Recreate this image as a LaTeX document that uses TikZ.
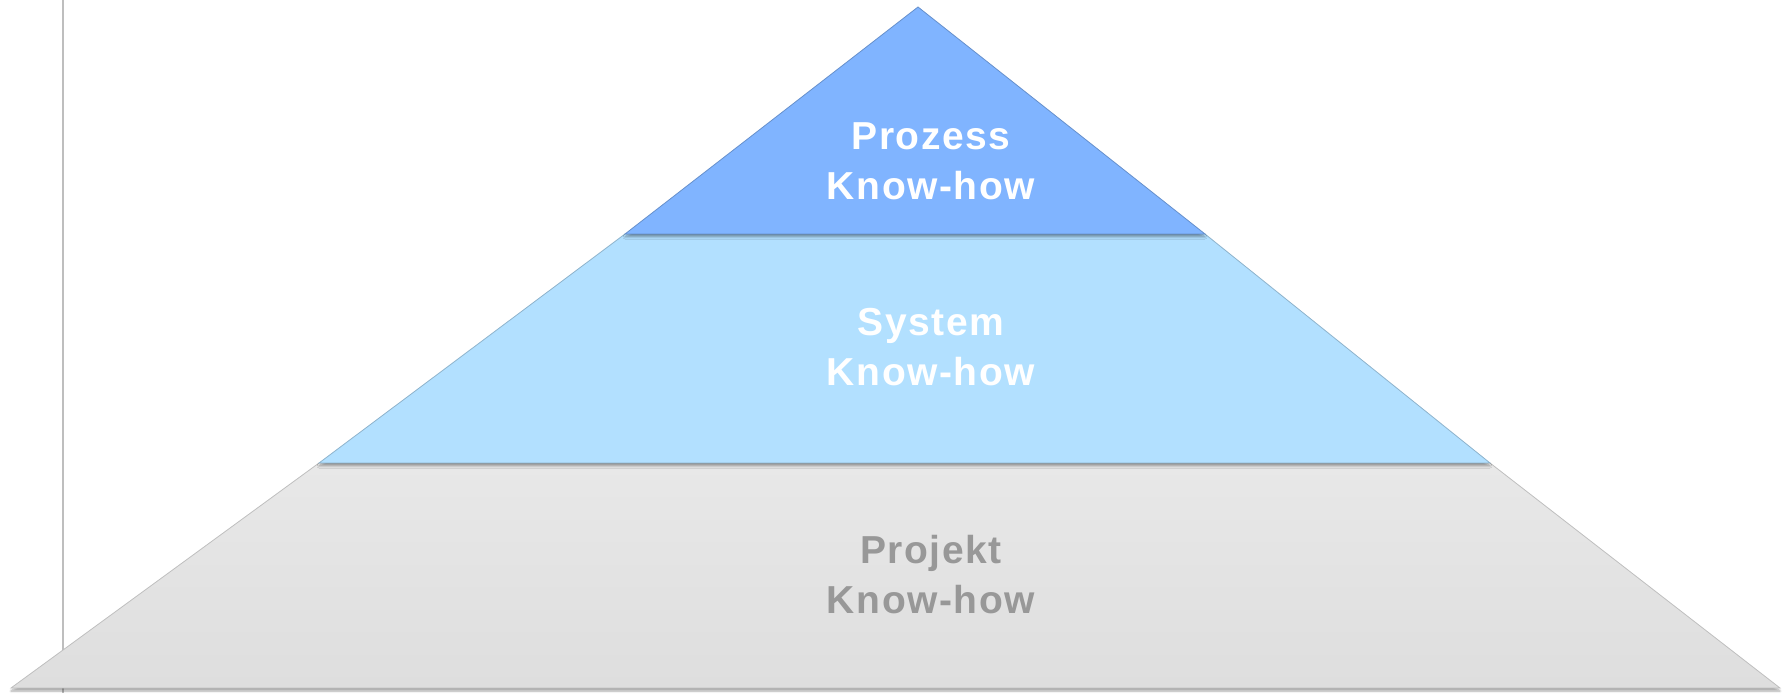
\documentclass[tikz,border=0pt]{standalone}
\usepackage{fontspec}
\setmainfont{Liberation Sans}
\usetikzlibrary{shadows.blur}
\definecolor{topblue}{RGB}{128,180,255}
\definecolor{midblue}{RGB}{178,224,255}
\definecolor{graytop}{RGB}{232,232,232}
\definecolor{graybot}{RGB}{222,222,222}
\definecolor{labgray}{RGB}{152,152,152}
\definecolor{axisgray}{RGB}{190,190,190}
\tikzset{
  layer/.style={line width=0.8pt, blur shadow={shadow xshift=0pt, shadow yshift=-3pt, shadow blur steps=6, shadow opacity=35}},
  lab/.style={align=center, font=\bfseries\fontsize{39}{50}\selectfont\addfontfeature{LetterSpace=4}, text=white},
}
\begin{document}
\begin{tikzpicture}[x=1pt,y=1pt]
\useasboundingbox (0,0) rectangle (1787,693);
% axis line
\coordinate (ax1) at (63,693);
\coordinate (ax2) at (63,0);
\draw[axisgray, line width=1.1pt] (ax1) -- (ax2);
% pyramid corners
\coordinate (apex) at (918,686);
\coordinate (l1) at (625,459);
\coordinate (r1) at (1205,459);
\coordinate (l2) at (319,230);
\coordinate (r2) at (1490,230);
\coordinate (l3) at (11,5);
\coordinate (r3) at (1780,5);
% bottom layer
\path[layer, top color=graytop, bottom color=graybot, draw=white!75!black] (l2) -- (r2) -- (r3) -- (l3) -- cycle;
% middle layer
\path[layer, fill=midblue, draw=midblue!80!black] (l1) -- (r1) -- (r2) -- (l2) -- cycle;
% top layer
\path[layer, fill=topblue, draw=topblue!80!black] (apex) -- (r1) -- (l1) -- cycle;
% labels
\node[lab] (t1) at (931,532) {Prozess\\Know-how};
\node[lab] (t2) at (931,346) {System\\Know-how};
\node[lab, text=labgray] (t3) at (931,118) {Projekt\\Know-how};
\end{tikzpicture}
\end{document}
